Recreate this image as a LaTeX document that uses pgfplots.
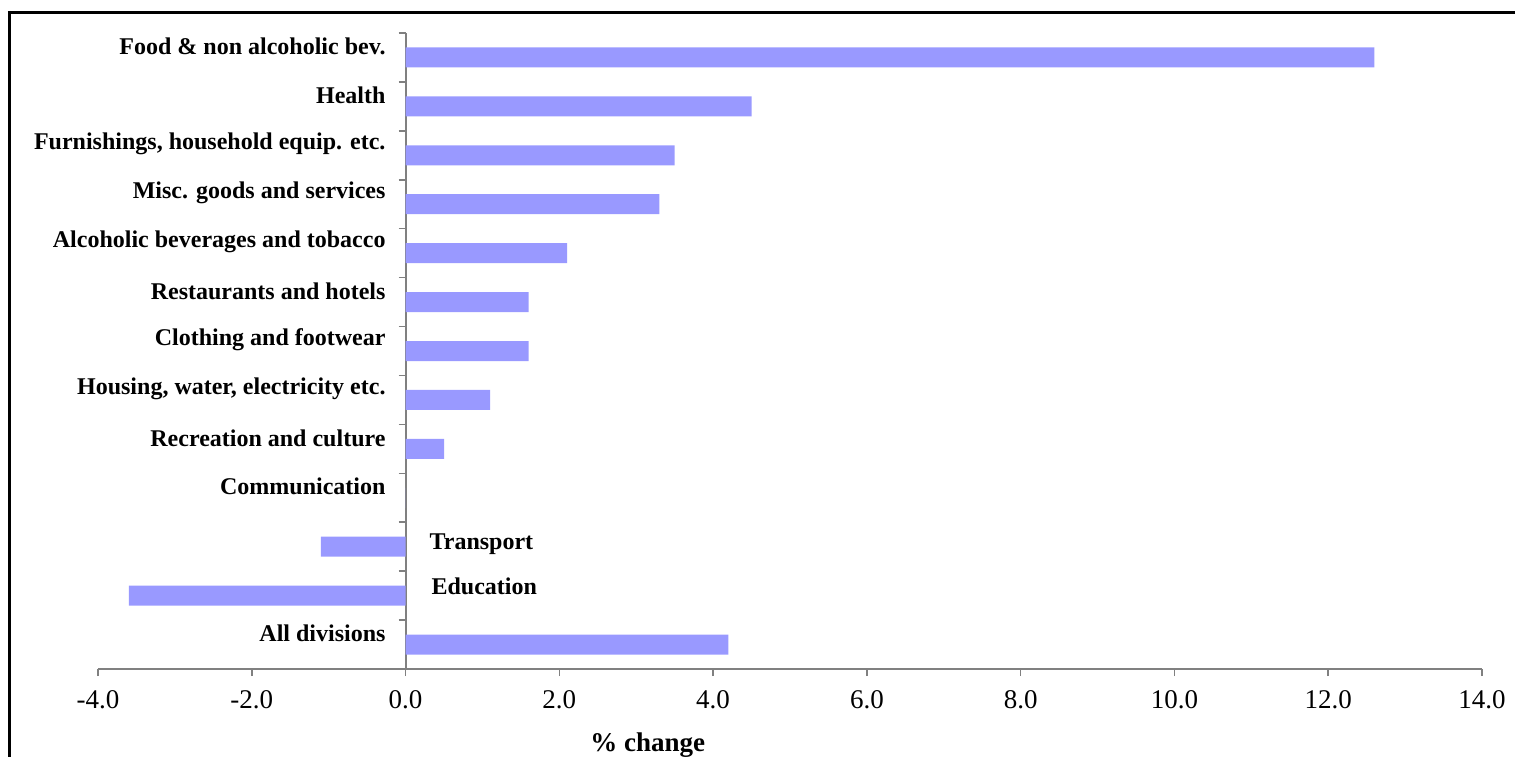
\documentclass[border=0pt]{standalone}
\usepackage{fontspec}
\setmainfont{Liberation Serif}
\usepackage{pgfplots}
\pgfplotsset{compat=1.18}
\definecolor{barblue}{HTML}{9999FF}
\definecolor{axgray}{HTML}{808080}
\begin{document}
\begin{tikzpicture}[x=1pt,y=1pt]
\useasboundingbox (-49,-44) rectangle (708.5,334.5);
\draw[line width=1.6pt] (-45.1,328.25) -- (708.5,328.25);
\draw[line width=1.6pt] (-44.25,329.05) -- (-44.25,-44);
\begin{axis}[
  at={(0,0)}, anchor=south west,
  scale only axis, width=692pt, height=318pt,
  xmin=-4, xmax=14, ymin=-0.5, ymax=12.5,
  axis x line*=bottom, axis y line*=middle,
  xbar, bar width=10pt,
  xtick={-4,-2,0,2,4,6,8,10,12,14},
  ytick={-0.5,0.5,1.5,2.5,3.5,4.5,5.5,6.5,7.5,8.5,9.5,10.5,11.5,12.5},
  yticklabels={},
  tick align=outside,
  major tick length=3.5pt,
  tick style={axgray, line width=0.8pt},
  axis line style={axgray, line width=1pt},
  xticklabel style={font=\fontsize{13.5}{15}\selectfont, yshift=-3.5pt,
    /pgf/number format/fixed, /pgf/number format/fixed zerofill,
    /pgf/number format/precision=1, /pgf/number format/assume math mode=true},
  clip=false,
]
\addplot[fill=barblue, draw=none] coordinates {
(4.2,0) (-3.6,1) (-1.1,2) (0,3) (0.5,4) (1.1,5) (1.6,6) (1.6,7) (2.1,8) (3.3,9) (3.5,10) (4.5,11) (12.6,12)};
\tikzset{lab/.style={anchor=east, font=\bfseries\fontsize{12}{14}\selectfont, xshift=-6.5pt, yshift=5.5pt}}
\node[lab] at (axis cs:0,12) {Food \& non alcoholic bev.};
\node[lab] at (axis cs:0,11) {Health};
\node[lab] at (axis cs:0,10) {Furnishings, household equip. etc.};
\node[lab] at (axis cs:0,9) {Misc. goods and services};
\node[lab] at (axis cs:0,8) {Alcoholic beverages and tobacco};
\node[lab] at (axis cs:0,7) {Restaurants and hotels};
\node[lab] at (axis cs:0,6) {Clothing and footwear};
\node[lab] at (axis cs:0,5) {Housing, water, electricity etc.};
\node[lab] at (axis cs:0,4) {Recreation and culture};
\node[lab] at (axis cs:0,3) {Communication};
\node[lab] at (axis cs:0,0) {All divisions};
\node[anchor=west, font=\bfseries\fontsize{12}{14}\selectfont, xshift=8.5pt, yshift=1.5pt] at (axis cs:0,2) {Transport};
\node[anchor=west, font=\bfseries\fontsize{12}{14}\selectfont, xshift=9.5pt, yshift=4.5pt] at (axis cs:0,1) {Education};
\node[font=\bfseries\fontsize{13.5}{15}\selectfont] at (axis cs:3.15,-0.5) [yshift=-38pt] {\% change};
\end{axis}
\end{tikzpicture}
\end{document}
